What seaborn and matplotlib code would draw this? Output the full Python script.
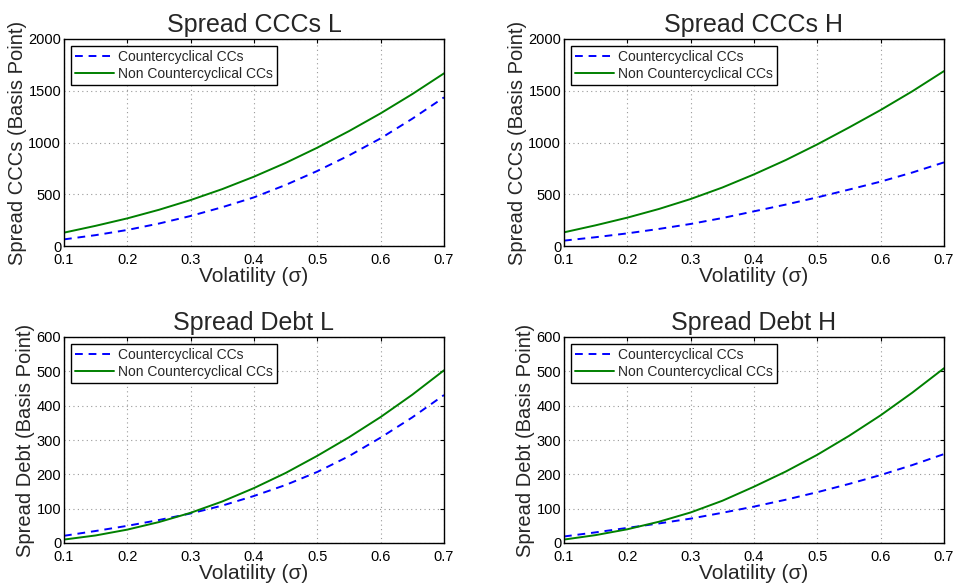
import numpy as np
import pandas as pd
import matplotlib
matplotlib.use("Agg")
import matplotlib.pyplot as plt
import seaborn as sns

sigma = [0.10, 0.15, 0.20, 0.25, 0.30, 0.35, 0.40, 0.45, 0.50, 0.55, 0.60, 0.65, 0.70]

ccc_L_counter = [64, 105, 155, 217, 290, 375, 470, 590, 725, 875, 1040, 1230, 1436]
ccc_L_non = [129, 195, 267, 350, 444, 550, 670, 803, 950, 1110, 1282, 1468, 1668]
ccc_H_counter = [52, 85, 122, 165, 213, 270, 335, 400, 470, 545, 622, 710, 808]
ccc_H_non = [132, 200, 274, 358, 454, 565, 692, 830, 982, 1145, 1314, 1495, 1690]
debt_L_counter = [21, 35, 50, 67, 86, 109, 137, 169, 207, 253, 307, 366, 431]
debt_L_non = [10, 22, 39, 61, 88, 121, 160, 204, 254, 308, 367, 432, 503]
debt_H_counter = [19, 31, 44, 57, 71, 88, 106, 126, 148, 172, 198, 227, 259]
debt_H_non = [10, 23, 40, 62, 89, 123, 164, 208, 257, 312, 372, 438, 509]

series_names = ["Countercyclical CCs", "Non Countercyclical CCs"]
panels = [
    ("Spread CCCs L", "Spread CCCs (Basis Point)", ccc_L_counter, ccc_L_non, 2000, 500),
    ("Spread CCCs H", "Spread CCCs (Basis Point)", ccc_H_counter, ccc_H_non, 2000, 500),
    ("Spread Debt L", "Spread Debt (Basis Point)", debt_L_counter, debt_L_non, 600, 100),
    ("Spread Debt H", "Spread Debt (Basis Point)", debt_H_counter, debt_H_non, 600, 100),
]

sns.set_style("white")
plt.rcParams['font.family'] = ['Liberation Sans', 'DejaVu Sans']

fig = plt.figure(figsize=(9.54, 5.88), dpi=100)
W, H = 954, 588
positions = [(64, 39, 444, 246), (564, 39, 944, 246), (64, 337, 444, 543), (564, 337, 944, 543)]

for (title, ylabel, counter, non, ymax, ystep), (l, t, r, b) in zip(panels, positions):
    ax = fig.add_axes([l / W, 1 - b / H, (r - l) / W, (b - t) / H])
    df = pd.DataFrame({
        "sigma": sigma * 2,
        "value": counter + non,
        "series": [series_names[0]] * len(sigma) + [series_names[1]] * len(sigma),
    })
    sns.lineplot(data=df, x="sigma", y="value", hue="series", style="series",
                 palette={series_names[0]: "#0000ff", series_names[1]: "#008000"},
                 dashes={series_names[0]: (4, 3), series_names[1]: ""},
                 linewidth=1.4, ax=ax)
    ax.set_xlim(0.1, 0.7)
    ax.set_ylim(0, ymax)
    ax.set_xticks(np.arange(0.1, 0.71, 0.1))
    ax.set_xticklabels(["0.1", "0.2", "0.3", "0.4", "0.5", "0.6", "0.7"])
    ax.set_yticks(np.arange(0, ymax + 1, ystep))
    ax.grid(True, linestyle=(0, (1, 3)), color="#999999", linewidth=0.8)
    ax.tick_params(direction="in", length=3, labelsize=10.5, top=True, right=True,
                   colors="black")
    ax.tick_params(axis="x", pad=5)
    ax.tick_params(axis="y", pad=2)
    for s in ax.spines.values():
        s.set_color("black")
        s.set_linewidth(1.0)
    ax.set_title(title, fontsize=18, pad=5)
    ax.set_xlabel("Volatility (σ)", fontsize=15, labelpad=0)
    ax.set_ylabel(ylabel, fontsize=14.5, labelpad=1)
    leg = ax.legend(loc="upper left", fontsize=10, frameon=True, fancybox=False,
                    edgecolor="black", framealpha=1, handlelength=2.8,
                    borderaxespad=0.5, labelspacing=0.2, handletextpad=0.3,
                    borderpad=0.3)
    leg.get_frame().set_linewidth(1.0)

fig.savefig("out.png", dpi=100)
